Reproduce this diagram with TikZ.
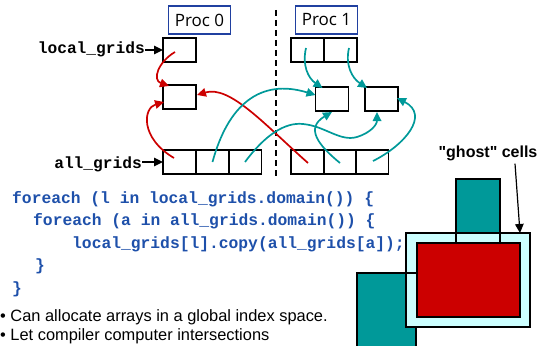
\documentclass[tikz,border=0pt]{standalone}
\usepackage{fontspec}
\setmainfont{Liberation Sans}
\setmonofont{Liberation Mono}
\newfontfamily\procfont{Open Sans}
\usetikzlibrary{arrows.meta}
\definecolor{codeblue}{RGB}{30,80,170}
\definecolor{procblue}{RGB}{32,64,160}
\definecolor{tealc}{RGB}{0,153,153}
\definecolor{redc}{RGB}{204,0,0}
\definecolor{ghostc}{RGB}{204,255,255}
\begin{document}
\begin{tikzpicture}[x=1pt,y=-1pt,
  cell/.style={draw, line width=1.6pt, minimum width=33pt, minimum height=24pt, inner sep=0pt, outer sep=0pt},
  procbox/.style={draw=procblue, line width=1.6pt, minimum width=62pt, minimum height=28pt, inner sep=0pt, font=\procfont\fontsize{17}{20}\selectfont},
  tip/.style={-{Triangle[length=9pt,width=8.5pt]}},
  redline/.style={draw=redc, line width=1.7pt, tip},
  tealline/.style={draw=tealc, line width=1.7pt, tip},
  lbl/.style={inner sep=0pt, anchor=base east, font=\ttfamily\bfseries\fontsize{16.2}{20}\selectfont},
  code/.style={inner sep=0pt, anchor=base west, text=codeblue, font=\ttfamily\bfseries\fontsize{16.3}{20}\selectfont},
  bullet/.style={inner sep=0pt, anchor=base west, font=\fontsize{16.4}{19}\selectfont},
  outl/.style={draw, line width=1.5pt}
]
\useasboundingbox (0,0) rectangle (545,345);

% processor headers
\node[procbox] (p0) at (199.5,20) {Proc 0};
\node[procbox] (p1) at (326.5,20) {Proc 1};

% processor boundary
\coordinate (divtop) at (276,10);
\coordinate (divbot) at (276,176);
\draw[line width=1.5pt, dash pattern=on 6pt off 4pt] (divtop) -- (divbot);

% local grids
\node[cell] (L0) at (179.5,50) {};
\node[cell] (L1a) at (307.5,50) {};
\node[cell] (L1b) at (340.5,50) {};

% intersection targets
\node[cell] (M0) at (179.5,97) {};
\node[cell] (M1a) at (332,99) {};
\node[cell] (M1b) at (381.5,99) {};

% all grids
\node[cell] (A0) at (179.5,162) {};
\node[cell] (A1) at (212.5,162) {};
\node[cell] (A2) at (245,162) {};
\node[cell] (A3) at (307.5,162) {};
\node[cell] (A4) at (340,162) {};
\node[cell] (A5) at (372,162) {};

% pointer labels
\node[lbl] (lg) at (145,53) {local\_grids};
\node[lbl] (ag) at (142,168) {all\_grids};
\draw[line width=1.5pt, tip] (lg.east |- L0.west) -- (L0.west);
\draw[line width=1.5pt, tip] (ag.east |- A0.west) -- (A0.west);

% copies on processor 0
\draw[redline] ([shift={(-4.5,2)}]L0.center) .. controls (158,62) and (152,80) .. ([shift={(6,1)}]M0.north west);
\draw[redline] ([shift={(-5.5,-4)}]A0.center) .. controls (140,138) and (143,108) .. ([shift={(1,5)}]M0.west);
\draw[redline] ([shift={(0.5,1)}]A3.center) .. controls (265,125) and (230,85) .. ([shift={(1,-2)}]M0.east);

% copies on processor 1
\draw[tealline] (A1.center) .. controls (228,105) and (260,78) .. ([shift={(0,-4)}]M1a.west);
\draw[tealline] (A2.center) .. controls (265,135) and (285,122) .. (303,124)
  .. controls (325,126) and (340,142) .. (357,137)
  .. controls (370,133) and (377,125) .. ([shift={(-4.5,1)}]M1b.south);
\draw[tealline] ([shift={(0,1)}]A4.center) .. controls (318,145) and (305,128) .. ([shift={(0,1)}]M1a.south);
\draw[tealline] ([shift={(1,-1)}]A5.center) .. controls (405,145) and (430,115) .. ([shift={(-1,-1)}]M1b.east);
\draw[tealline] ([shift={(-1.5,-2)}]L1a.center) .. controls (302,65) and (308,78) .. ([shift={(7,1)}]M1a.north west);
\draw[tealline] ([shift={(8.5,-2)}]L1b.center) .. controls (345,65) and (352,78) .. ([shift={(2,1)}]M1b.north west);

% code
\node[code] (c1) at (12,203) {foreach (l in local\_grids.domain()) \{};
\node[code] (c2) at (33,225.5) {foreach (a in all\_grids.domain()) \{};
\node[code] (c3) at (72,248) {local\_grids[l].copy(all\_grids[a]);};
\node[code] (c4) at (35,270.5) {\}};
\node[code] (c5) at (12,293) {\}};

% notes
\node[bullet] (b1) at (0,321) {\textbullet\ Can allocate arrays in a global index space.};
\node[bullet] (b2) at (0,340) {\textbullet\ Let compiler computer intersections};

% ghost cell sketch
\fill[tealc] (456,179) rectangle (500,243);
\fill[tealc] (357,273) rectangle (416,346);
\draw[outl] (456,179) rectangle (500,243);
\draw[outl] (357,346) -- (357,273) -- (416,273) -- (416,346);
\filldraw[fill=ghostc, line width=1.5pt] (406,233) rectangle (530,327);
\draw[outl] (456,233) -- (456,243);
\draw[outl] (500,233) -- (500,243);
\draw[outl] (406,273) -- (416,273);
\draw[outl] (416,327) -- (416,346);
\filldraw[fill=redc, line width=1.5pt] (417,243) rectangle (520,317);

\node[inner sep=0pt, anchor=base, font=\bfseries\fontsize{16}{19}\selectfont] (ghost) at (488,157) {\textquotedbl ghost\textquotedbl{} cells};
\coordinate (ghostend) at (520,233);
\draw[line width=1.2pt, tip] ([shift={(27,3)}]ghost.south) -- (ghostend);
\end{tikzpicture}
\end{document}
